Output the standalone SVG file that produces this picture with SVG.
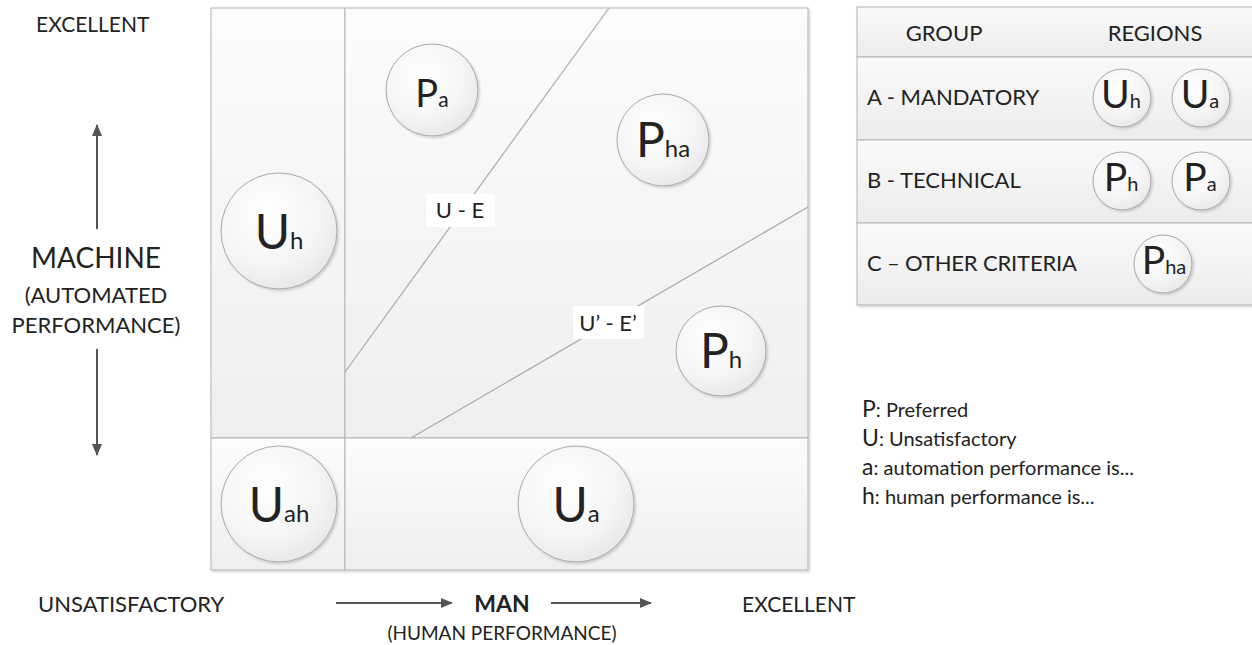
<svg xmlns="http://www.w3.org/2000/svg" width="1252" height="645" viewBox="0 0 1252 645">
<defs>
<linearGradient id="cellGrad" x1="0" y1="0" x2="0" y2="1">
<stop offset="0" stop-color="#fcfcfc"/>
<stop offset="1" stop-color="#efefef"/>
</linearGradient>
<linearGradient id="rowGrad" x1="0" y1="0" x2="0" y2="1">
<stop offset="0" stop-color="#fafafa"/>
<stop offset="1" stop-color="#ececec"/>
</linearGradient>
<radialGradient id="circGrad" cx="0.4" cy="0.35" r="0.75">
<stop offset="0" stop-color="#ffffff"/>
<stop offset="0.6" stop-color="#f5f5f5"/>
<stop offset="1" stop-color="#e4e4e4"/>
</radialGradient>
<filter id="shadow" x="-10%" y="-10%" width="120%" height="120%">
<feDropShadow dx="1.5" dy="1.5" stdDeviation="1.2" flood-color="#000" flood-opacity="0.18"/>
</filter>
<marker id="arr" viewBox="0 0 12 10" refX="11" refY="5" markerWidth="12" markerHeight="10" markerUnits="userSpaceOnUse" orient="auto">
<path d="M0,0 L12,5 L0,10 z" fill="#555"/>
</marker>
</defs>
<style>
text { font-family: Lato, "Open Sans", "Liberation Sans", sans-serif; fill: #222; }
.cell { fill: url(#cellGrad); stroke: #b3b3b3; stroke-width: 1; }
.row { fill: url(#rowGrad); stroke: #b3b3b3; stroke-width: 1; }
.circ { fill: url(#circGrad); stroke: #a8a8a8; stroke-width: 1; filter: url(#shadow); }
.div { stroke: #a9a9a9; stroke-width: 1.2; fill: none; }
.axis { stroke: #555; stroke-width: 2; fill: none; }
.big { font-size: 48px; }
.sub { font-size: 24px; }
.tbl { font-size: 22px; }
.tl { font-size: 39px; }
.ts { font-size: 20px; }
.leg { font-size: 20px; }
.legk { font-size: 23px; }
</style>

<!-- main grid -->
<g id="grid" filter="url(#shadow)">
<rect class="cell" x="211" y="8" width="134" height="430"/>
<rect class="cell" x="345" y="8" width="463" height="430"/>
<rect class="cell" x="211" y="438" width="134" height="132"/>
<rect class="cell" x="345" y="438" width="463" height="132"/>
</g>

<g id="connectors">
<line class="div" x1="609" y1="8" x2="345" y2="372"/>
<line class="div" x1="808" y1="207" x2="411" y2="438"/>
<line class="axis" x1="97" y1="229" x2="97" y2="125" marker-end="url(#arr)"/>
<line class="axis" x1="97" y1="349" x2="97" y2="455" marker-end="url(#arr)"/>
<line class="axis" x1="336" y1="603" x2="452" y2="603" marker-end="url(#arr)"/>
<line class="axis" x1="551" y1="603" x2="651" y2="603" marker-end="url(#arr)"/>
</g>

<g id="label-UE">
<rect x="426" y="194" width="69" height="33" fill="#ffffff"/>
<text x="460" y="218" text-anchor="middle" font-size="22">U - E</text>
</g>
<g id="label-UEprime">
<rect x="573" y="306" width="71" height="33" fill="#ffffff"/>
<text x="608" y="331" text-anchor="middle" font-size="22">U’ - E’</text>
</g>

<g id="node-Pa">
<circle class="circ" cx="432" cy="90" r="46"/>
<text x="432" y="107" text-anchor="middle"><tspan font-size="38px">P</tspan><tspan font-size="21px">a</tspan></text>
</g>
<g id="node-Pha">
<circle class="circ" cx="663" cy="140" r="46"/>
<text x="663" y="157" text-anchor="middle"><tspan class="big">P</tspan><tspan class="sub">ha</tspan></text>
</g>
<g id="node-Uh">
<circle class="circ" cx="279" cy="231" r="58"/>
<text x="279" y="249" text-anchor="middle"><tspan class="big">U</tspan><tspan class="sub">h</tspan></text>
</g>
<g id="node-Ph">
<circle class="circ" cx="721" cy="351" r="45"/>
<text x="721" y="368" text-anchor="middle"><tspan class="big">P</tspan><tspan class="sub">h</tspan></text>
</g>
<g id="node-Uah">
<circle class="circ" cx="279" cy="504" r="58"/>
<text x="279" y="522" text-anchor="middle"><tspan class="big">U</tspan><tspan class="sub">ah</tspan></text>
</g>
<g id="node-Ua">
<circle class="circ" cx="576" cy="504" r="58"/>
<text x="576" y="522" text-anchor="middle"><tspan class="big">U</tspan><tspan class="sub">a</tspan></text>
</g>

<!-- axis labels -->
<g id="axis-labels">
<text x="36" y="32" font-size="21">EXCELLENT</text>
<text x="96" y="268" text-anchor="middle" font-size="28">MACHINE</text>
<text x="96" y="303" text-anchor="middle" font-size="22">(AUTOMATED</text>
<text x="96" y="333" text-anchor="middle" font-size="22">PERFORMANCE)</text>
<text x="38" y="612" font-size="22">UNSATISFACTORY</text>
<text x="502" y="612" text-anchor="middle" font-size="23" font-weight="bold">MAN</text>
<text x="502" y="640" text-anchor="middle" font-size="19">(HUMAN PERFORMANCE)</text>
<text x="742" y="612" font-size="21">EXCELLENT</text>
</g>

<!-- table -->
<g id="table" filter="url(#shadow)">
<rect class="row" x="857" y="7" width="400" height="50"/>
<rect class="row" x="857" y="57" width="400" height="83"/>
<rect class="row" x="857" y="140" width="400" height="83"/>
<rect class="row" x="857" y="223" width="400" height="82"/>
</g>
<g id="table-text">
<text x="944" y="41" text-anchor="middle" class="tbl">GROUP</text>
<text x="1155" y="41" text-anchor="middle" class="tbl">REGIONS</text>
<text x="867" y="105" class="tbl">A - MANDATORY</text>
<text x="867" y="188" class="tbl">B - TECHNICAL</text>
<text x="867" y="271" class="tbl" textLength="210" lengthAdjust="spacing">C – OTHER CRITERIA</text>
</g>
<g id="t-Uh">
<circle class="circ" cx="1122" cy="98" r="29"/>
<text x="1121" y="108" text-anchor="middle"><tspan class="tl">U</tspan><tspan class="ts">h</tspan></text>
</g>
<g id="t-Ua">
<circle class="circ" cx="1201" cy="98" r="29"/>
<text x="1200" y="108" text-anchor="middle"><tspan class="tl">U</tspan><tspan class="ts">a</tspan></text>
</g>
<g id="t-Ph">
<circle class="circ" cx="1122" cy="181" r="29"/>
<text x="1121" y="191" text-anchor="middle"><tspan class="tl">P</tspan><tspan class="ts">h</tspan></text>
</g>
<g id="t-Pa">
<circle class="circ" cx="1201" cy="181" r="29"/>
<text x="1200" y="191" text-anchor="middle"><tspan class="tl">P</tspan><tspan class="ts">a</tspan></text>
</g>
<g id="t-Pha">
<circle class="circ" cx="1163" cy="264" r="29"/>
<text x="1164" y="274" text-anchor="middle"><tspan class="tl">P</tspan><tspan class="ts">ha</tspan></text>
</g>

<!-- legend -->
<g id="legend">
<text x="862" y="417"><tspan class="legk">P</tspan><tspan class="leg">: Preferred</tspan></text>
<text x="862" y="446"><tspan class="legk">U</tspan><tspan class="leg">: Unsatisfactory</tspan></text>
<text x="862" y="475"><tspan class="legk">a</tspan><tspan class="leg">: automation performance is...</tspan></text>
<text x="862" y="504"><tspan class="legk">h</tspan><tspan class="leg">: human performance is...</tspan></text>
</g>
</svg>
